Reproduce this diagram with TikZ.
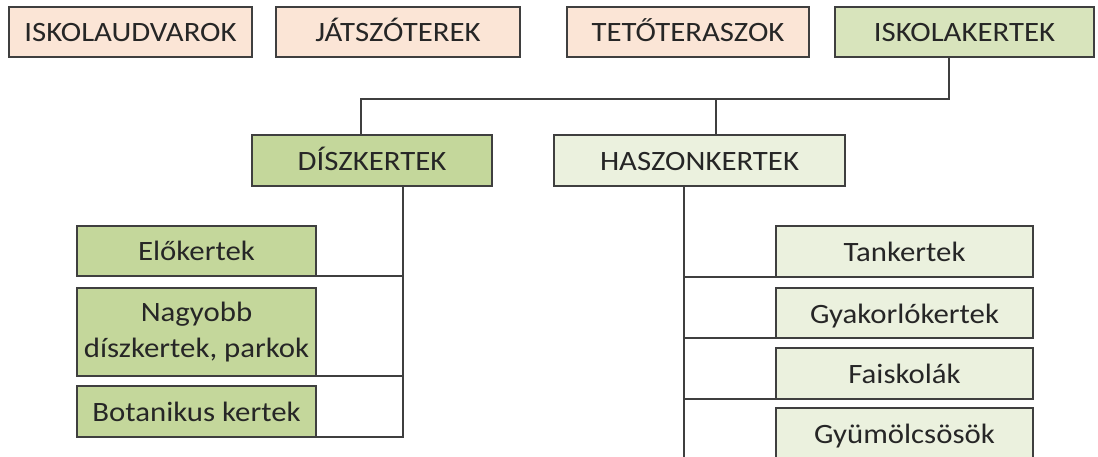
\documentclass[tikz,border=0pt]{standalone}
\usepackage{fontspec}
\setmainfont{Carlito}[FakeStretch=1.1]
\usepackage{xcolor}
\usetikzlibrary{positioning}

\definecolor{peach}{HTML}{FBE5D6}
\definecolor{leafdark}{HTML}{C4D79B}
\definecolor{leafmid}{HTML}{D8E4BC}
\definecolor{leaflight}{HTML}{EBF1DE}
\definecolor{edgegray}{HTML}{3F3F3F}
\definecolor{ink}{HTML}{262626}

\begin{document}
\begin{tikzpicture}[x=1pt, y=-1pt, node distance=12pt and 24pt,
      box/.style={draw=edgegray, line width=1.2pt, inner sep=0pt, outer sep=0pt, align=center,
        text=ink, minimum height=50pt, font=\fontsize{28}{36}\selectfont},
      onerow/.style={box, text height=22pt, text depth=2pt},
      link/.style={draw=edgegray, line width=1.2pt}]
    \clip (0,0) rectangle (1098,457);

    \node[onerow, fill=peach, minimum width=243pt] (udvar) at (130.5,32) {ISKOLAUDVAROK};
    \node[onerow, fill=peach, minimum width=244pt, right=24pt of udvar] (jatszo) {JÁTSZÓTEREK};
    \node[onerow, fill=peach, minimum width=242pt, right=47pt of jatszo] (teto) {TETŐTERASZOK};
    \node[onerow, fill=leafmid, minimum width=259pt, right=26pt of teto] (iskert) {ISKOLAKERTEK};

    \node[onerow, fill=leafdark, minimum width=240pt, minimum height=51pt] (disz) at (372,160.5) {DÍSZKERTEK};
    \node[onerow, fill=leaflight, minimum width=291pt, minimum height=51pt] (haszon) at (699.5,160.5) {HASZONKERTEK};

    \node[onerow, fill=leafdark, minimum width=239pt] (elo) at (196.5,251) {Előkertek};
    \node[box, fill=leafdark, minimum width=239pt, minimum height=88pt, below=12pt of elo] (nagy) {Nagyobb\\díszkertek, parkok};
    \node[onerow, fill=leafdark, minimum width=239pt, minimum height=51pt, below=10pt of nagy] (bota) {Botanikus kertek};

    \node[onerow, fill=leaflight, minimum width=257pt, minimum height=51pt] (tan) at (904.5,251.5) {Tankertek};
    \node[onerow, fill=leaflight, minimum width=257pt, below=11pt of tan] (gyak) {Gyakorlókertek};
    \node[onerow, fill=leaflight, minimum width=257pt, minimum height=51pt, below=10pt of gyak] (fai) {Faiskolák};
    \node[onerow, fill=leaflight, minimum width=257pt, minimum height=51pt, below=9pt of fai] (gyum) {Gyümölcsösök};

    \coordinate (busL) at (361,99);
    \coordinate (busM) at (716,99);
    \coordinate (busR) at (949,99);
    \coordinate (dspine) at (403,0);
    \coordinate (hspine) at (684,0);

    \draw[link] (iskert.south -| busR) -- (busR) -- (busL) -- (busL |- disz.north);
    \draw[link] (busM) -- (busM |- haszon.north);
    \draw[link] (bota.south east) -| (dspine |- disz.south);
    \foreach \leaf in {elo, nagy}
      \draw[link] (\leaf.south east) -- (\leaf.south east -| dspine);
    \draw[link] (gyum.south west) -| (hspine |- haszon.south);
    \foreach \leaf in {tan, gyak, fai}
      \draw[link] (\leaf.south west) -- (\leaf.south west -| hspine);
\end{tikzpicture}
\end{document}
